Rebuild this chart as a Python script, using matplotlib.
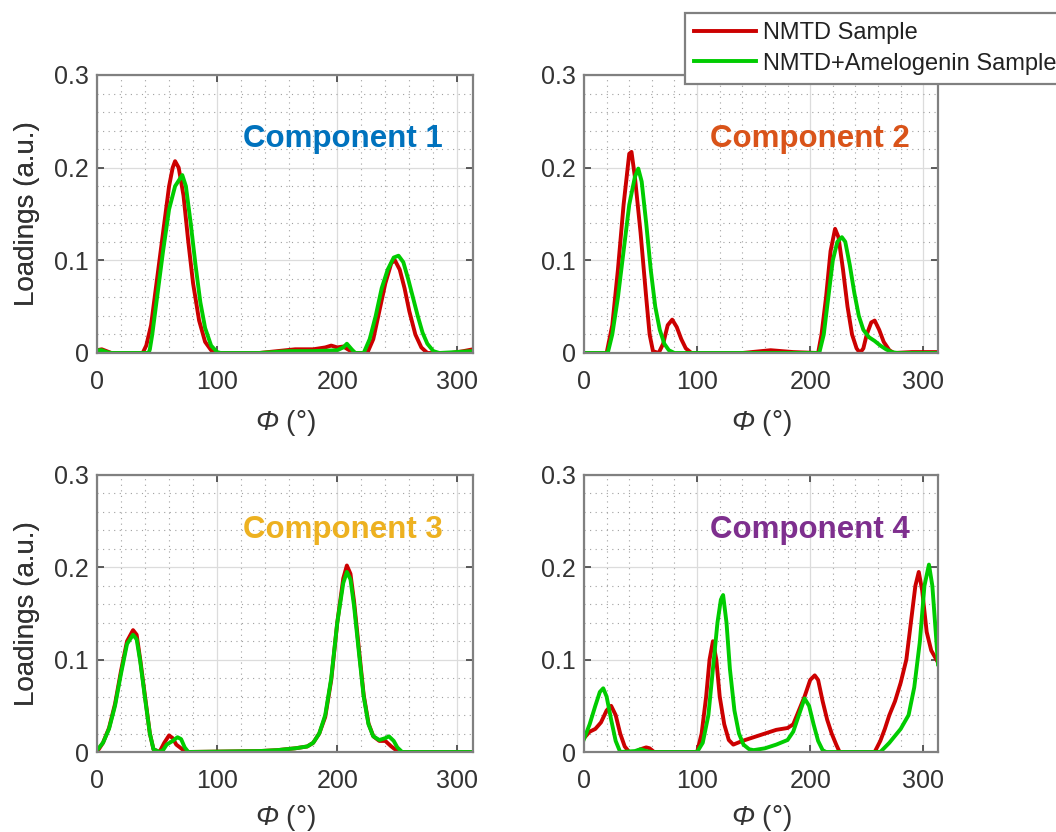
import numpy as np
import matplotlib.pyplot as plt
from matplotlib.ticker import MultipleLocator
from matplotlib.lines import Line2D

plt.rcParams['font.family'] = ['Liberation Sans', 'DejaVu Sans']
# greek letters in math text come from the rm slot, so make it italic for the Phi
plt.rcParams['mathtext.fontset'] = 'custom'
plt.rcParams['mathtext.rm'] = 'Liberation Sans:italic'
plt.rcParams['mathtext.it'] = 'Liberation Sans:italic'

# loadings read per component: (phi, value) pairs for each sample
c1_red_x = [0, 4, 8, 12, 38, 41, 45, 50, 55, 60, 63, 65, 68, 72, 76, 80, 85, 90, 95, 100,
            135, 150, 165, 180, 190, 195, 200, 205, 210, 215, 225, 230, 235, 240, 245, 248,
            252, 256, 260, 265, 270, 275, 295, 305, 313]
c1_red_y = [0.003, 0.004, 0.002, 0, 0, 0.008, 0.03, 0.08, 0.13, 0.18, 0.2, 0.207, 0.2, 0.17,
            0.12, 0.075, 0.035, 0.012, 0.003, 0, 0, 0.002, 0.004, 0.004, 0.006, 0.008, 0.006,
            0.007, 0.003, 0, 0, 0.015, 0.045, 0.075, 0.097, 0.1, 0.09, 0.07, 0.045, 0.02,
            0.006, 0, 0, 0.002, 0.004]
c1_grn_x = [0, 4, 8, 12, 43, 44, 46, 50, 55, 60, 65, 70, 71, 74, 78, 82, 86, 90, 95, 100, 103,
            135, 160, 180, 200, 205, 208, 212, 215, 220, 222, 227, 232, 237, 242, 247, 251,
            255, 259, 263, 267, 271, 275, 280, 285, 313]
c1_grn_y = [0.003, 0.003, 0.001, 0, 0, 0.004, 0.02, 0.06, 0.11, 0.155, 0.18, 0.19, 0.192, 0.18,
            0.14, 0.095, 0.055, 0.027, 0.008, 0.001, 0, 0, 0.002, 0.002, 0.003, 0.006, 0.01,
            0.004, 0, 0, 0, 0.015, 0.04, 0.07, 0.09, 0.103, 0.105, 0.098, 0.08, 0.06, 0.04,
            0.022, 0.01, 0.002, 0, 0.002]

c2_red_x = [0, 20, 25, 30, 35, 40, 42, 45, 50, 55, 58, 61, 66, 70, 74, 78, 82, 86, 90, 95,
            140, 165, 185, 207, 210, 214, 218, 222, 225, 229, 233, 237, 241, 244, 247, 250,
            254, 257, 261, 265, 270, 274, 290, 313]
c2_red_y = [0, 0, 0.03, 0.09, 0.16, 0.215, 0.217, 0.19, 0.13, 0.06, 0.02, 0.002, 0, 0.01, 0.03,
            0.036, 0.028, 0.015, 0.005, 0, 0, 0.003, 0.001, 0, 0.02, 0.06, 0.11, 0.134, 0.125,
            0.09, 0.05, 0.02, 0.005, 0, 0.005, 0.02, 0.033, 0.035, 0.025, 0.012, 0.003, 0,
            0.001, 0.001]
c2_grn_x = [0, 21, 25, 30, 35, 40, 45, 48, 51, 55, 59, 63, 67, 71, 75, 80, 208, 212, 216,
            220, 224, 228, 231, 235, 239, 243, 247, 252, 257, 262, 267, 272, 277, 313]
c2_grn_y = [0, 0, 0.02, 0.06, 0.11, 0.16, 0.19, 0.199, 0.185, 0.14, 0.09, 0.05, 0.025, 0.01,
            0.003, 0, 0, 0.02, 0.06, 0.1, 0.12, 0.125, 0.12, 0.095, 0.065, 0.04, 0.025, 0.017,
            0.013, 0.008, 0.004, 0.001, 0, 0]

c3_red_x = [0, 5, 10, 15, 20, 25, 30, 33, 36, 40, 44, 47, 52, 56, 60, 63, 66, 70, 74, 135,
            150, 165, 175, 180, 185, 190, 195, 200, 205, 208, 211, 214, 218, 222, 226, 230,
            235, 240, 245, 251, 313]
c3_red_y = [0, 0.01, 0.026, 0.052, 0.088, 0.12, 0.132, 0.127, 0.1, 0.06, 0.02, 0.003, 0, 0.01,
            0.018, 0.015, 0.008, 0.004, 0, 0.001, 0.002, 0.004, 0.006, 0.01, 0.02, 0.038,
            0.078, 0.14, 0.188, 0.202, 0.193, 0.163, 0.112, 0.062, 0.031, 0.017, 0.012, 0.012,
            0.006, 0, 0]
c3_grn_x = [0, 5, 10, 15, 20, 25, 30, 33, 36, 40, 44, 47, 52, 55, 58, 63, 67, 70, 73, 76, 135,
            150, 165, 175, 180, 185, 190, 195, 200, 205, 208, 211, 214, 218, 222, 226, 230,
            235, 240, 243, 247, 250, 254, 313]
c3_grn_y = [0.002, 0.01, 0.025, 0.05, 0.085, 0.117, 0.127, 0.122, 0.098, 0.058, 0.02, 0.003, 0,
            0.002, 0.008, 0.012, 0.016, 0.014, 0.005, 0, 0.001, 0.002, 0.004, 0.006, 0.01, 0.02,
            0.04, 0.08, 0.14, 0.183, 0.195, 0.187, 0.158, 0.108, 0.06, 0.03, 0.017, 0.013,
            0.015, 0.017, 0.012, 0.005, 0, 0]

c4_red_x = [0, 5, 10, 15, 20, 24, 28, 32, 36, 40, 45, 50, 55, 58, 62, 100, 104, 108, 111, 114,
            117, 120, 124, 128, 132, 136, 140, 150, 160, 170, 180, 185, 190, 195, 200, 204,
            207, 211, 215, 219, 223, 226, 257, 262, 266, 270, 275, 280, 285, 290, 293, 296,
            299, 303, 307, 313]
c4_red_y = [0.015, 0.022, 0.025, 0.032, 0.045, 0.05, 0.04, 0.02, 0.006, 0, 0, 0.003, 0.005,
            0.004, 0, 0, 0.02, 0.06, 0.1, 0.12, 0.1, 0.06, 0.03, 0.013, 0.008, 0.01, 0.012,
            0.016, 0.02, 0.024, 0.026, 0.03, 0.045, 0.06, 0.078, 0.083, 0.078, 0.055, 0.035,
            0.02, 0.008, 0, 0, 0.012, 0.025, 0.04, 0.055, 0.075, 0.1, 0.15, 0.18, 0.195, 0.175,
            0.13, 0.11, 0.097]
c4_grn_x = [0, 5, 10, 14, 17, 20, 24, 28, 32, 45, 50, 55, 60, 100, 105, 110, 114, 118, 121,
            123, 126, 129, 133, 137, 141, 146, 150, 160, 170, 180, 185, 190, 195, 199, 203,
            207, 211, 214, 262, 270, 280, 287, 292, 297, 301, 305, 308, 311, 313]
c4_grn_y = [0.014, 0.03, 0.05, 0.065, 0.069, 0.06, 0.035, 0.012, 0, 0.001, 0.003, 0.001, 0, 0,
            0.01, 0.04, 0.09, 0.14, 0.165, 0.17, 0.14, 0.09, 0.045, 0.02, 0.008, 0.003, 0.002,
            0.004, 0.008, 0.013, 0.022, 0.04, 0.058, 0.05, 0.03, 0.012, 0.002, 0, 0, 0.01,
            0.025, 0.04, 0.07, 0.12, 0.18, 0.203, 0.18, 0.13, 0.095]

components = [
    ('Component 1', '#0072BD', c1_red_x, c1_red_y, c1_grn_x, c1_grn_y),
    ('Component 2', '#D95319', c2_red_x, c2_red_y, c2_grn_x, c2_grn_y),
    ('Component 3', '#EDB120', c3_red_x, c3_red_y, c3_grn_x, c3_grn_y),
    ('Component 4', '#7E2F8E', c4_red_x, c4_red_y, c4_grn_x, c4_grn_y),
]
series_names = ['NMTD Sample', 'NMTD+Amelogenin Sample']
x_ticks = [0, 100, 200, 300]
y_ticks = [0, 0.1, 0.2, 0.3]
y_tick_labels = ['0', '0.1', '0.2', '0.3']
red = '#CC0000'
green = '#00CC00'
frame = '#808080'

W, H = 1056, 832
fig = plt.figure(figsize=(W / 100, H / 100), dpi=100)

# axes boxes in pixels: left, top, right, bottom
boxes = [(97, 75, 473, 353), (584, 75, 938, 353),
         (97, 475, 473, 752), (584, 475, 938, 752)]
title_y = [0.222, 0.222, 0.232, 0.232]
xlabel_gap = [55, 55, 51, 51]

for i, (name, col, rx, ry, gx, gy) in enumerate(components):
    l, t, r, b = boxes[i]
    ax = fig.add_axes([l / W, 1 - b / H, (r - l) / W, (b - t) / H])
    ax.plot(rx, ry, color=red, lw=2.8, solid_joinstyle='round')
    ax.plot(gx, gy, color=green, lw=2.8, solid_joinstyle='round')
    ax.set_xlim(0, 313)
    ax.set_ylim(0, 0.3)
    ax.set_xticks(x_ticks)
    ax.set_yticks(y_ticks)
    ax.set_yticklabels(y_tick_labels)
    ax.xaxis.set_minor_locator(MultipleLocator(20))
    ax.yaxis.set_minor_locator(MultipleLocator(0.02))
    ax.grid(which='major', color='#dcdcdc', lw=0.9, ls='-')
    ax.grid(which='minor', color='#a0a0a0', lw=0.8, ls=(0, (1, 4)))
    ax.set_axisbelow(True)
    ax.tick_params(which='major', direction='in', length=5, width=1.2, color='#404040',
                   top=True, right=True, labelsize=18, labelcolor='#333333')
    ax.tick_params(axis='y', pad=6)
    ax.tick_params(axis='x', pad=12)
    ax.tick_params(which='minor', length=0)
    for s in ax.spines.values():
        s.set_color(frame)
        s.set_linewidth(1.6)
    ax.set_ylabel('Loadings (a.u.)', fontsize=20, color='#333333')
    ax.yaxis.set_label_coords((40 - l) / (r - l), 0.5)
    ax.set_xlabel(r'$\Phi$ (°)', fontsize=20, color='#333333')
    ax.xaxis.set_label_coords(0.5, -xlabel_gap[i] / (b - t))
    ax.xaxis.label.set_va('top')
    ax.text(288, title_y[i], name, color=col, fontsize=22.5, fontweight='bold',
            ha='right', va='baseline')

handles = [Line2D([], [], color=red, lw=2.8), Line2D([], [], color=green, lw=2.8)]
leg = fig.legend(handles, series_names, loc='upper left',
                 bbox_to_anchor=(685 / W, 1 - 13 / H), borderaxespad=0, fontsize=17,
                 frameon=True, fancybox=False, framealpha=1, edgecolor=frame,
                 handlelength=2.6, handletextpad=0.3, labelspacing=0.35, borderpad=0.4)
leg.get_frame().set_linewidth(1.6)
for txt in leg.get_texts():
    txt.set_color('#222222')

fig.savefig('out.png', dpi=100)
